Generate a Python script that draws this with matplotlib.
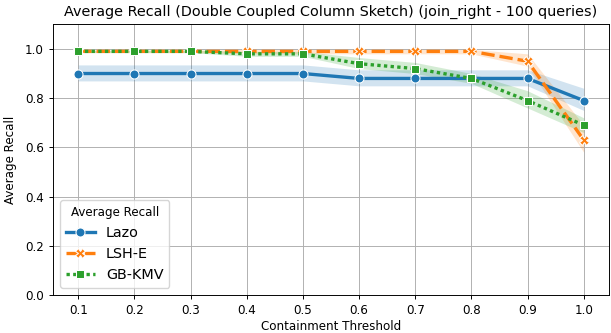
import matplotlib
matplotlib.use("Agg")
import matplotlib.pyplot as plt
import numpy as np

thresholds = [0.1, 0.2, 0.3, 0.4, 0.5, 0.6, 0.7, 0.8, 0.9, 1.0]

lazo = [0.90, 0.90, 0.90, 0.90, 0.90, 0.88, 0.88, 0.88, 0.88, 0.79]
lazo_lo = [0.87, 0.87, 0.87, 0.87, 0.87, 0.85, 0.85, 0.85, 0.85, 0.75]
lazo_hi = [0.935, 0.935, 0.935, 0.935, 0.935, 0.915, 0.915, 0.915, 0.915, 0.84]

lshe = [0.99, 0.99, 0.99, 0.99, 0.99, 0.99, 0.99, 0.99, 0.95, 0.63]
lshe_lo = [0.985, 0.985, 0.985, 0.98, 0.98, 0.98, 0.98, 0.98, 0.93, 0.58]
lshe_hi = [0.995, 0.995, 0.995, 0.998, 0.998, 0.998, 0.998, 0.998, 0.98, 0.69]

gbkmv = [0.99, 0.99, 0.99, 0.98, 0.98, 0.94, 0.92, 0.88, 0.79, 0.69]
gbkmv_lo = [0.985, 0.985, 0.985, 0.97, 0.97, 0.92, 0.90, 0.86, 0.76, 0.66]
gbkmv_hi = [0.995, 0.995, 0.995, 0.99, 0.99, 0.965, 0.945, 0.90, 0.83, 0.72]

series = [
    ("Lazo", lazo, lazo_lo, lazo_hi, "#1f77b4", "o", (None, None), 6.5),
    ("LSH-E", lshe, lshe_lo, lshe_hi, "#ff7f0e", "X", (4, 1.5), 6.5),
    ("GB-KMV", gbkmv, gbkmv_lo, gbkmv_hi, "#2ca02c", "s", (1, 1), 5.5),
]

s = 0.86
plt.rcParams.update({
    "font.size": 10 * s,
    "axes.linewidth": 0.8 * s,
    "xtick.major.size": 3.5 * s,
    "ytick.major.size": 3.5 * s,
    "xtick.major.width": 0.8 * s,
    "ytick.major.width": 0.8 * s,
})

fig = plt.figure(figsize=(6.11, 3.33), dpi=100)
ax = fig.add_axes([53/611, 1-295/333, (609-53)/611, (295-24.3)/333])

for name, y, lo, hi, c, m, d, ms in series:
    ax.fill_between(thresholds, lo, hi, color=c, alpha=0.2, linewidth=0)
    line, = ax.plot(thresholds, y, color=c, marker=m, markersize=ms, linewidth=2.4,
                    markeredgecolor="white", markeredgewidth=0.75, label=name)
    if d[0] is not None:
        line.set_dashes(d)

ax.set_ylim(0, 1.1)
ax.set_xlim(0.055, 1.045)
ax.set_xticks(thresholds)
ax.set_xticklabels([f"{t:.1f}" for t in thresholds])
ax.set_yticks([0, 0.2, 0.4, 0.6, 0.8, 1.0])
ax.grid(True, color="#b0b0b0", linewidth=0.8 * s)
ax.set_axisbelow(True)
ax.set_xlabel("Containment Threshold", labelpad=2)
ax.set_ylabel("Average Recall", labelpad=6)
ax.set_title("Average Recall (Double Coupled Column Sketch) (join_right - 100 queries)", fontsize=12 * s)
leg = ax.legend(title="Average Recall", loc="lower left", fontsize=12 * s, title_fontsize=10 * s)

fig.savefig("out.png", dpi=100)
